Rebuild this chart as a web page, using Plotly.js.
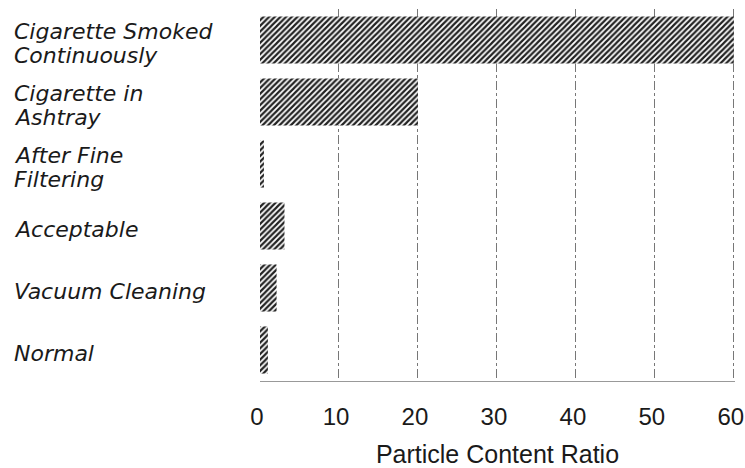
<!DOCTYPE html>
<html>
<head>
<meta charset="utf-8">
<script src="https://cdn.plot.ly/plotly-3.0.1.min.js"></script>
<style>html,body{margin:0;padding:0;background:#fff;}#chart{width:745px;height:468px;}</style>
</head>
<body>
<div id="chart"></div>
<script>
// Categories listed bottom to top
const categories = ["Normal", "Vacuum Cleaning", "Acceptable", "After Fine<br>Filtering", "Cigarette in<br>Ashtray", "Cigarette Smoked<br>Continuously"];
const ratios = [1.0, 2.1, 3.1, 0.5, 20, 60];
const xTicks = [0, 10, 20, 30, 40, 50, 60];
const xTitle = "Particle Content Ratio";

const ids = categories.map((c, i) => "c" + i);

const trace = {
  type: "bar",
  orientation: "h",
  x: ratios,
  y: ids,
  marker: {
    color: "#ffffff",
    line: {width: 0},
    pattern: {shape: "/", size: 4, solidity: 0.55, fgcolor: "#222222", bgcolor: "#ffffff"}
  },
  hoverinfo: "none"
};

const labelFont = {family: "DejaVu Sans, Liberation Sans, sans-serif", size: 22, color: "#1a1a1a"};
const annotations = [];
categories.forEach((c, i) => {
  const lines = c.split("<br>");
  lines.forEach((ln, j) => {
    annotations.push({
      xref: "paper", yref: "y", x: -0.521, y: ids[i],
      xanchor: "left", yanchor: "middle", borderpad: 0,
      text: "<i>" + ln + "</i>", showarrow: false,
      font: labelFont,
      yshift: ((lines.length - 1) / 2 - j) * 24 - 3
    });
  });
});

const layout = {
  width: 745, height: 468,
  margin: {l: 260, r: 10, t: 9, b: 87},
  paper_bgcolor: "#ffffff", plot_bgcolor: "#ffffff",
  showlegend: false,
  bargap: 0.24,
  xaxis: {
    range: [0, 60.15], tickvals: xTicks, ticktext: xTicks.map(String),
    showgrid: true, gridcolor: "#777777", griddash: "dashdot", gridwidth: 1,
    zeroline: false, showline: true, linecolor: "#999999", linewidth: 1,
    ticks: "", ticklabelstandoff: 14, ticklabelshift: -3, ticklabeloverflow: "allow",
    tickfont: {family: "Liberation Sans, Arial, sans-serif", size: 24, color: "#1a1a1a"},
    title: {text: xTitle, standoff: 22, font: {family: "Liberation Sans, Arial, sans-serif", size: 25, color: "#1a1a1a"}},
    fixedrange: true
  },
  yaxis: {
    type: "category", categoryarray: ids, range: [-0.5, 5.5],
    showticklabels: false, showgrid: false, zeroline: false, showline: false, ticks: "",
    fixedrange: true
  },
  annotations: annotations
};

Plotly.newPlot("chart", [trace], layout, {displayModeBar: false, staticPlot: true});
</script>
</body>
</html>
